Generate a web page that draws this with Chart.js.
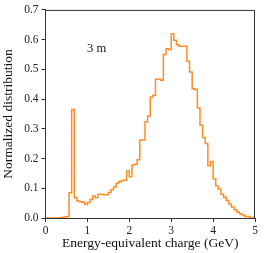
<!DOCTYPE html>
<html>
<head>
  <meta charset="utf-8">
  <title>Energy-equivalent charge distribution</title>
  <style>
    body { margin: 0; background: #fff; }
    #wrap { width: 266px; height: 253px; }
  </style>
</head>
<body>
  <div id="wrap"><canvas id="histChart" width="266" height="253"></canvas></div>

<script src="https://cdn.jsdelivr.net/npm/chart.js"></script>
<script>
    // histogram: bins of 0.0625 GeV from 0 to 5 GeV
    const binStart = 0;
    const binWidth = 0.0625;
    const binValues = [
        0.000, 0.000, 0.000, 0.000, 0.000, 0.001, 0.002, 0.003,
        0.005, 0.085, 0.365, 0.068, 0.057, 0.055, 0.053, 0.045,
        0.052, 0.062, 0.074, 0.068, 0.080, 0.080, 0.078, 0.078,
        0.086, 0.095, 0.104, 0.117, 0.123, 0.126, 0.127, 0.158,
        0.139, 0.178, 0.181, 0.196, 0.262, 0.262, 0.324, 0.343,
        0.407, 0.413, 0.467, 0.467, 0.463, 0.550, 0.569, 0.567,
        0.620, 0.598, 0.583, 0.578, 0.578, 0.578, 0.527, 0.491,
        0.435, 0.432, 0.370, 0.312, 0.271, 0.251, 0.176, 0.190,
        0.132, 0.108, 0.097, 0.080, 0.070, 0.059, 0.047, 0.037,
        0.028, 0.020, 0.014, 0.010, 0.005, 0.005, 0.002, 0.002
    ];
    const xTicks = [0, 1, 2, 3, 4, 5];
    const yTicks = [0.0, 0.1, 0.2, 0.3, 0.4, 0.5, 0.6, 0.7];
    const annotationText = "3 m";
    const annotationPos = { x: 1.22, y: 0.571 };

    const serif = "'Liberation Serif', 'DejaVu Serif', serif";
    const axisColor = '#333';

    // step outline: each point holds its value until the next bin edge
    let points = [];
    for (let i = 0; i < binValues.length; i++) {
        points.push({ x: binStart + i * binWidth, y: binValues[i] });
    }
    points.push({ x: binStart + binValues.length * binWidth, y: binValues[binValues.length - 1] });

    const frameAndLabel = {
        id: 'frameAndLabel',
        afterDraw(chart) {
            const ctx = chart.ctx;
            const a = chart.chartArea;
            ctx.save();
            ctx.strokeStyle = axisColor;
            ctx.lineWidth = 1;
            ctx.beginPath();
            ctx.moveTo(a.left, a.top + 0.5);
            ctx.lineTo(a.right - 0.5, a.top + 0.5);
            ctx.lineTo(a.right - 0.5, a.bottom);
            ctx.stroke();
            ctx.fillStyle = '#111';
            ctx.font = '12.5px ' + serif;
            ctx.textAlign = 'center';
            ctx.textBaseline = 'middle';
            ctx.fillText(annotationText,
                chart.scales.x.getPixelForValue(annotationPos.x),
                chart.scales.y.getPixelForValue(annotationPos.y));
            ctx.restore();
        }
    };

    new Chart(document.getElementById('histChart'), {
        type: 'line',
        data: {
            datasets: [{
                data: points,
                stepped: true,
                borderColor: '#ff8c24',
                borderWidth: 1.5,
                pointRadius: 0,
                fill: false,
            }]
        },
        plugins: [frameAndLabel],
        options: {
            responsive: false,
            devicePixelRatio: 1,
            animation: false,
            layout: { padding: { left: 0, right: 11, top: 9, bottom: 0 } },
            plugins: { legend: { display: false }, tooltip: { enabled: false } },
            scales: {
                x: {
                    type: 'linear',
                    min: 0,
                    max: 5,
                    afterFit: (s) => { s.height = 35; },
                    afterBuildTicks: (s) => { s.ticks = xTicks.map(v => ({ value: v })); },
                    grid: { drawOnChartArea: false, drawTicks: true, tickLength: 4, color: axisColor },
                    border: { color: axisColor },
                    ticks: { color: '#222', padding: 2, font: { family: serif, size: 11.5 } },
                    title: {
                        display: true,
                        text: 'Energy-equivalent charge (GeV)',
                        color: '#111',
                        font: { family: serif, size: 13.5 },
                        padding: { top: 0, bottom: 1 },
                    }
                },
                y: {
                    min: 0,
                    max: 0.7,
                    afterFit: (s) => { s.width = 45.5; },
                    afterBuildTicks: (s) => { s.ticks = yTicks.map(v => ({ value: v })); },
                    grid: { drawOnChartArea: false, drawTicks: true, tickLength: 4, color: axisColor },
                    border: { color: axisColor },
                    ticks: {
                        color: '#222',
                        padding: 3,
                        font: { family: serif, size: 11.5 },
                        callback: (v) => v.toFixed(1),
                    },
                    title: {
                        display: true,
                        text: 'Normalized distribution',
                        color: '#111',
                        font: { family: serif, size: 13.5 },
                        padding: { top: 0, bottom: 0 },
                    }
                }
            }
        }
    });
</script>
</body>
</html>
